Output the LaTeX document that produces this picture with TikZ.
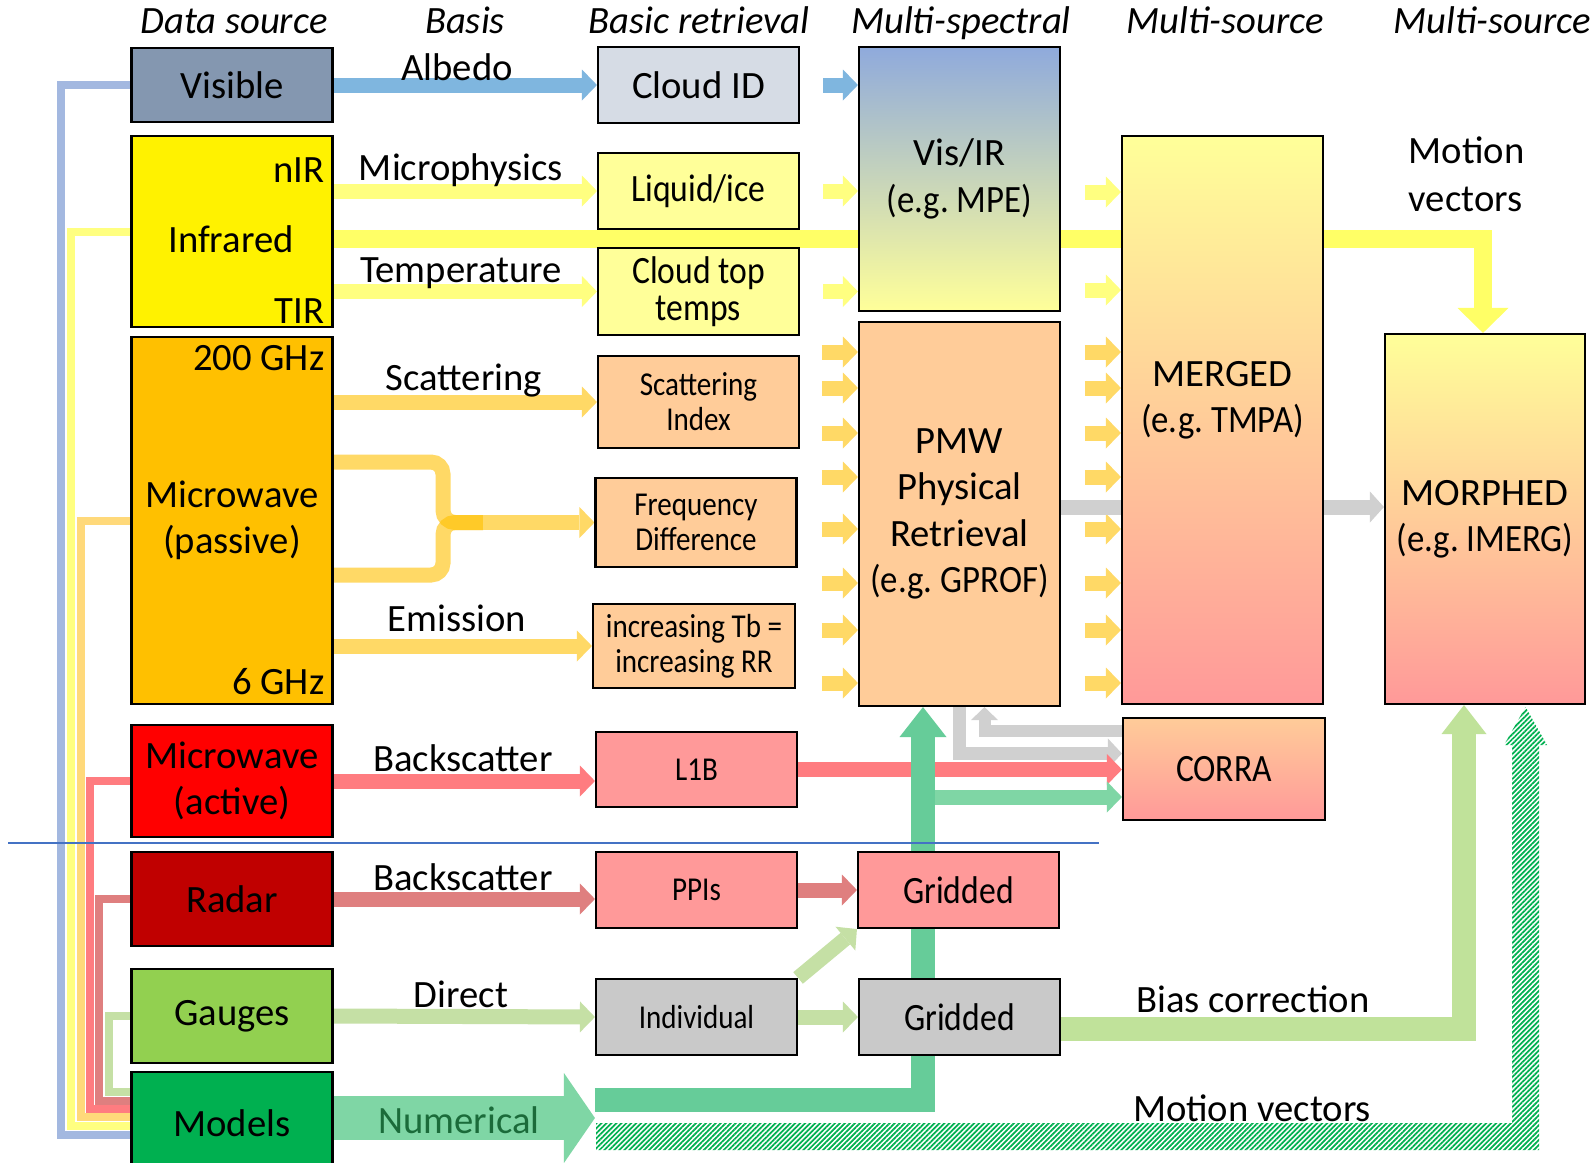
\documentclass[tikz,border=0pt]{standalone}
\usepackage{fontspec}
\setmainfont{Carlito}
\newfontfamily\narrowfont[FakeStretch=0.87]{Carlito}
\newfontfamily\egfont[FakeStretch=0.9]{Carlito}
\usetikzlibrary{arrows.meta,calc,patterns.meta}
\pgfdeclarelayer{bg}
\pgfsetlayers{bg,main}
\frenchspacing

% box fills
\definecolor{visgray}{HTML}{8497B0}
\definecolor{cloudgray}{HTML}{D6DCE5}
\definecolor{lightyel}{HTML}{FFFF99}
\definecolor{mworange}{HTML}{FFC000}
\definecolor{peach}{HTML}{FFCC99}
\definecolor{pinkred}{HTML}{FF9999}
\definecolor{radarred}{HTML}{C00000}
\definecolor{gaugegreen}{HTML}{92D050}
\definecolor{modelgreen}{HTML}{00B050}
\definecolor{boxgray}{HTML}{C9C9C9}
\definecolor{visblue}{HTML}{8FAADC}
% flows
\definecolor{albedoblue}{HTML}{7FB6DF}
\definecolor{irarrow}{HTML}{FFFF80}
\definecolor{irband}{HTML}{FFFF66}
\definecolor{mwarrow}{HTML}{FFD966}
\definecolor{actarrow}{HTML}{FF7C80}
\definecolor{radarrow}{HTML}{DF7F7F}
\definecolor{gaugearrow}{HTML}{C5E0A5}
\definecolor{numarrow}{HTML}{7FD6A5}
\definecolor{modelband}{HTML}{66CC99}
\definecolor{biasgreen}{HTML}{C0E29A}
\definecolor{greyflow}{HTML}{D0D0D0}
\definecolor{feedblue}{HTML}{A3B8E0}
\definecolor{feedorange}{HTML}{FFD97A}
\definecolor{sepblue}{HTML}{4472C4}
\definecolor{numtext}{HTML}{1B6B3A}

\tikzset{
	box/.style={draw, line width=0.6pt, minimum width=2.01cm, inner sep=0pt, align=center, font=\fontsize{11}{13.2}\selectfont},
	nbox/.style={box, font=\narrowfont\fontsize{9.5}{10}\selectfont},
	nboxl/.style={box, font=\narrowfont\fontsize{11}{10.4}\selectfont},
	lbl/.style={inner sep=0pt, font=\fontsize{11}{13.6}\selectfont},
	head/.style={lbl, anchor=base, font=\itshape\fontsize{11}{13.2}\selectfont},
	flow/.style={line width=0.15cm, -{Triangle[length=0.15cm,width=0.31cm,line width=0pt]}},
	feed/.style={line width=0.08cm},
}

\begin{document}
\begin{tikzpicture}
	\useasboundingbox (0,0) rectangle (15.95,-11.63);

	% column heads
	\node[head] (hsrc) at (2.34,-0.33) {Data source};
	\node[head] (hbasis) at (4.65,-0.33) {Basis};
	\node[head] (hret) at (6.99,-0.33) {Basic retrieval};
	\node[head] (hspec) at (9.61,-0.33) {Multi-spectral};
	\node[head] (hmulti) at (12.25,-0.33) {Multi-source};
	\node[head] (hmorph) at (14.92,-0.33) {Multi-source};

	% data sources
	\node[box, fill=visgray, minimum height=0.74cm] (vis) at (2.32,-0.85) {Visible};
	\node[box, fill=yellow, minimum height=1.91cm] (ir) at (2.32,-2.315) {};
	\node[lbl, anchor=base east] (nir) at (3.25,-1.82) {nIR};
	\node[lbl, anchor=base] (irtxt) at (2.31,-2.52) {Infrared};
	\node[lbl, anchor=base east] (tir) at (3.25,-3.23) {TIR};
	\node[box, fill=mworange, minimum height=3.67cm] (mwp) at (2.32,-5.205) {Microwave\\(passive)};
	\node[lbl, anchor=base east] (ghzhi) at (3.25,-3.70) {200 GHz};
	\node[lbl, anchor=base east] (ghzlo) at (3.25,-6.94) {6 GHz};
	\node[box, fill=red, minimum height=1.12cm] (mwa) at (2.32,-7.81) {Microwave\\(active)};
	\node[box, fill=radarred, minimum height=0.94cm] (radar) at (2.32,-8.99) {Radar};
	\node[box, fill=gaugegreen, minimum height=0.94cm] (gauges) at (2.32,-10.16) {Gauges};
	\node[box, fill=modelgreen, minimum height=1.03cm] (models) at (2.32,-11.235) {Models};

	% basic retrieval
	\node[box, fill=cloudgray, minimum height=0.76cm] (cloudid) at (6.985,-0.85) {Cloud ID};
	\node[nboxl, fill=lightyel, minimum height=0.76cm] (liquid) at (6.985,-1.91) {Liquid/ice};
	\node[nboxl, fill=lightyel, minimum height=0.87cm] (ctt) at (6.985,-2.915) {Cloud top\\temps};
	\node[nbox, fill=peach, minimum height=0.92cm] (si) at (6.985,-4.02) {Scattering\\Index};
	\node[nbox, fill=peach, minimum height=0.89cm] (fd) at (6.96,-5.225) {Frequency\\Difference};
	\node[nbox, fill=peach, minimum width=2.02cm, minimum height=0.84cm] (inc) at (6.94,-6.46) {increasing Tb =\\increasing RR};
	\node[nbox, fill=pinkred, minimum height=0.75cm] (l1b) at (6.965,-7.695) {L1B};
	\node[nbox, fill=pinkred, minimum height=0.76cm] (ppi) at (6.965,-8.90) {PPIs};
	\node[nbox, fill=boxgray, minimum height=0.76cm] (indiv) at (6.965,-10.17) {Individual};

	% multi-spectral
	\node[box, top color=visblue, bottom color=lightyel, minimum height=2.64cm] (visir) at (9.595,-1.79) {Vis/IR\\{\egfont (e.g. MPE)}};
	\node[box, fill=peach, minimum height=3.84cm] (pmw) at (9.595,-5.14) {PMW\\Physical\\Retrieval\\{\egfont (e.g. GPROF)}};
	\node[nboxl, fill=pinkred, minimum height=0.76cm] (gridr) at (9.585,-8.90) {Gridded};
	\node[nboxl, fill=boxgray, minimum height=0.76cm] (gridg) at (9.595,-10.17) {Gridded};

	% multi-source
	\node[box, top color=lightyel, bottom color=pinkred, middle color=peach, minimum height=5.68cm] (merged) at (12.225,-4.20) {};
	\node[lbl, align=center, font=\fontsize{11}{13.2}\selectfont] (mergedtxt) at (12.225,-4.00) {MERGED\\{\egfont (e.g. TMPA)}};
	\node[nboxl, top color=peach, bottom color=pinkred, minimum width=2.02cm, minimum height=1.02cm] (corra) at (12.24,-7.69) {CORRA};
	\node[box, top color=lightyel, bottom color=pinkred, middle color=peach, minimum width=2.00cm, minimum height=3.70cm] (morph) at (14.85,-5.19) {MORPHED\\{\egfont (e.g. IMERG)}};

	% flow labels
	\node[lbl, anchor=base] (albedo) at (4.57,-0.80) {Albedo};
	\node[lbl, anchor=base] (micro) at (4.61,-1.80) {Microphysics};
	\node[lbl, anchor=base] (temp) at (4.61,-2.82) {Temperature};
	\node[lbl, anchor=base] (scat) at (4.64,-3.90) {Scattering};
	\node[lbl, anchor=base] (emis) at (4.57,-6.31) {Emission};
	\node[lbl, anchor=base] (bscat) at (4.63,-7.71) {Backscatter};
	\node[lbl, anchor=base] (bscatr) at (4.63,-8.90) {Backscatter};
	\node[lbl, anchor=base] (direct) at (4.61,-10.07) {Direct};
	\node[lbl, anchor=base, text=numtext] (numlbl) at (4.59,-11.33) {Numerical};
	\node[lbl, anchor=west, align=left] (mvtop) at (14.08,-1.74) {Motion\\vectors};
	\node[lbl, anchor=base] (bias) at (12.53,-10.12) {Bias correction};
	\node[lbl, anchor=base] (mvbot) at (12.52,-11.21) {Motion vectors};

	\draw[sepblue, line width=0.5pt] (0.08,-8.43) -- (10.99,-8.43);

	\begin{pgfonlayer}{bg}
	\fill[white] (0,0) rectangle (15.95,-11.63);

	% all sources feed the models
	\foreach \src/\xv/\yh/\col in {vis/0.61/11.35/feedblue, ir/0.71/11.26/irarrow, mwp/0.81/11.17/feedorange, mwa/0.90/11.09/actarrow, radar/0.99/11.01/radarrow, gauges/1.09/10.92/gaugearrow}
		\draw[feed, color=\col] (\src.west) -| (\xv,-\yh) -- (models.west |- 0,-\yh);

	% sources -> basic retrieval
	\draw[flow, color=albedoblue] (vis.east) -- (cloudid.west);
	\draw[flow, color=irarrow] (ir.east |- liquid.west) -- (liquid.west);
	\draw[flow, color=irarrow] (ir.east |- ctt.west) -- (ctt.west);
	\draw[flow, color=mwarrow] (mwp.east |- si.west) -- (si.west);
	\coordinate (fork) at (4.43,-5.225);
	\coordinate (forkend) at (4.83,-5.225);
	\draw[line width=0.15cm, color=mworange, opacity=0.6, rounded corners=0.12cm] (mwp.east |- 0,-4.62) -| (fork) -- (forkend);
	\draw[line width=0.15cm, color=mworange, opacity=0.6, rounded corners=0.12cm] (mwp.east |- 0,-5.75) -| (fork) -- (forkend);
	\draw[flow, color=mwarrow] (forkend) -- (fd.west);
	\draw[flow, color=mwarrow] (mwp.east |- inc.west) -- (inc.west);
	\draw[flow, color=actarrow] (mwa.east) -- (mwa.east -| l1b.west);
	\draw[flow, color=radarrow] (radar.east) -- (radar.east -| ppi.west);
	\draw[flow, color=gaugearrow] (gauges.east) -- (indiv.west);
	\coordinate (numtip) at (indiv.west |- 0,-11.18);
	\draw[line width=0.44cm, color=numarrow, -{Triangle[length=0.31cm,width=0.90cm,line width=0pt]}] (models.east |- numtip) -- (numtip);

	% basic retrieval -> multi-spectral
	\draw[flow, color=albedoblue, shorten <=0.23cm] (cloudid.east) -- (cloudid.east -| visir.west);
	\draw[flow, color=irarrow, shorten <=0.23cm] (liquid.east) -- (liquid.east -| visir.west);
	\draw[flow, color=irarrow, shorten <=0.23cm] (ctt.east) -- (ctt.east -| visir.west);
	\foreach \y in {3.52,3.88,4.33,4.77,5.29,5.83,6.30,6.83}{
		\draw[flow, color=mwarrow] ($(pmw.west |- 0,-\y)+(-0.36,0)$) -- (pmw.west |- 0,-\y);
		\draw[flow, color=mwarrow] ($(merged.west |- 0,-\y)+(-0.36,0)$) -- (merged.west |- 0,-\y);
	}
	\foreach \y in {1.92,2.90}
		\draw[flow, color=irarrow] ($(merged.west |- 0,-\y)+(-0.36,0)$) -- (merged.west |- 0,-\y);

	% infrared motion vectors
	\draw[line width=0.18cm, color=irband, -{Triangle[length=0.25cm,width=0.51cm,line width=0pt]}] ([yshift=-0.075cm]ir.east) -| ([xshift=-0.02cm]morph.north);
	\draw[line width=0.15cm, color=greyflow, -{Triangle[length=0.14cm,width=0.31cm,line width=0pt]}] (pmw.east |- 0,-5.07) -- (morph.west |- 0,-5.07);

	% PMW <-> CORRA
	\draw[line width=0.13cm, color=greyflow, -{Triangle[length=0.14cm,width=0.30cm,line width=0pt]}] (pmw.south) |- (corra.west |- 0,-7.535);
	\draw[line width=0.12cm, color=greyflow, -{Triangle[length=0.13cm,width=0.27cm,line width=0pt]}] (corra.west |- 0,-7.31) -| ([xshift=0.25cm]pmw.south);
	\draw[flow, color=actarrow] (l1b.east) -- (l1b.east -| corra.west);

	% models -> PMW, CORRA
	\draw[line width=0.24cm, color=modelband, -{Triangle[length=0.30cm,width=0.47cm,line width=0pt]}] (numtip |- 0,-10.995) -| ([xshift=-0.365cm]pmw.south);
	\coordinate (gbranch) at (9.35,-7.97);
	\draw[flow, color=numarrow] (gbranch) -- (gbranch -| corra.west);

	% radar and gauges
	\draw[flow, color=radarrow] (ppi.east) -- (gridr.west);
	\draw[flow, color=gaugearrow] (indiv.east) -- (gridg.west);
	\draw[flow, color=gaugearrow] (indiv.north east) -- (gridr.south west);
	\draw[line width=0.24cm, color=biasgreen, -{Triangle[length=0.29cm,width=0.45cm,line width=0pt]}] ([yshift=-0.12cm]gridg.east) -| ([xshift=-0.21cm]morph.south);

	% model motion vectors (hatched)
	\fill[pattern={Lines[angle=45,distance=1pt,line width=0.5pt]}, pattern color=modelgreen]
		(5.96,-11.50) -- (15.39,-11.50) -- (15.39,-7.45) -- (15.47,-7.45) -- (15.255,-7.07)
		-- (15.04,-7.45) -- (15.12,-7.45) -- (15.12,-11.23) -- (5.96,-11.23) -- cycle;
	\end{pgfonlayer}
\end{tikzpicture}
\end{document}
